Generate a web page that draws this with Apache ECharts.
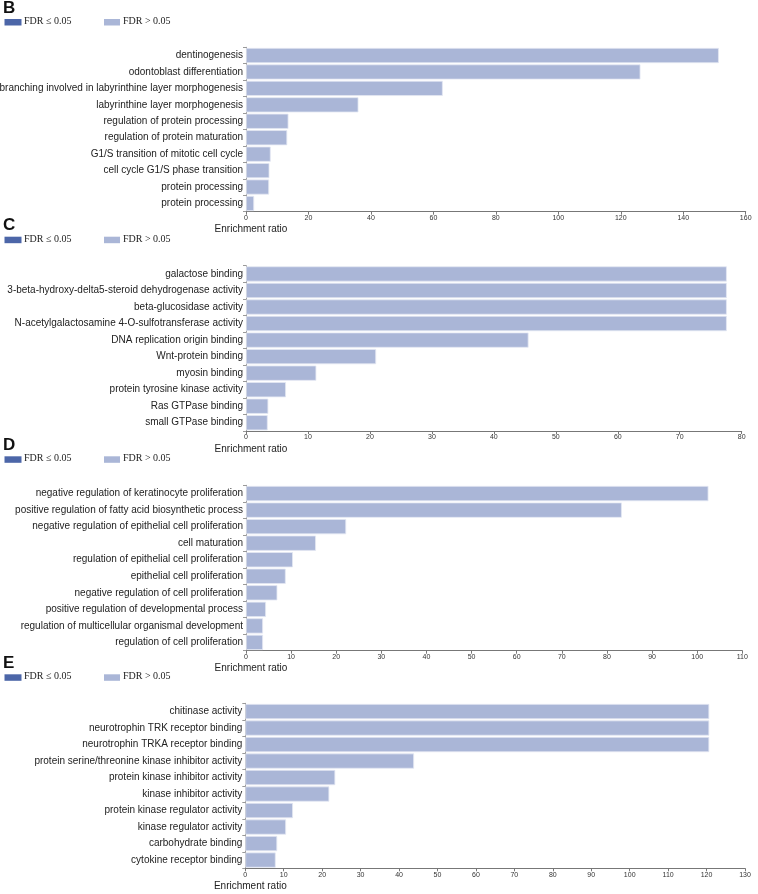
<!DOCTYPE html>
<html>
<head>
<meta charset="utf-8">
<script src="https://cdn.jsdelivr.net/npm/echarts@6/dist/echarts.min.js"></script>
<style>html,body{margin:0;padding:0;background:#fff}#c{width:758px;height:894px}</style>
</head>
<body>
<div id="c"></div>
<script>
// Panel B
var catsB = ["dentinogenesis","odontoblast differentiation","branching involved in labyrinthine layer morphogenesis","labyrinthine layer morphogenesis","regulation of protein processing","regulation of protein maturation","G1/S transition of mitotic cell cycle","cell cycle G1/S phase transition","protein processing","protein processing"];
var valsB = [151.4,126.3,63.0,36.0,13.6,13.2,7.9,7.5,7.4,2.6];
// Panel C
var catsC = ["galactose binding","3-beta-hydroxy-delta5-steroid dehydrogenase activity","beta-glucosidase activity","N-acetylgalactosamine 4-O-sulfotransferase activity","DNA replication origin binding","Wnt-protein binding","myosin binding","protein tyrosine kinase activity","Ras GTPase binding","small GTPase binding"];
var valsC = [77.6,77.6,77.6,77.6,45.6,21.0,11.35,6.45,3.6,3.5];
// Panel D
var catsD = ["negative regulation of keratinocyte proliferation","positive regulation of fatty acid biosynthetic process","negative regulation of epithelial cell proliferation","cell maturation","regulation of epithelial cell proliferation","epithelial cell proliferation","negative regulation of cell proliferation","positive regulation of developmental process","regulation of multicellular organismal development","regulation of cell proliferation"];
var valsD = [102.5,83.3,22.2,15.5,10.4,8.8,6.95,4.43,3.77,3.77];
// Panel E
var catsE = ["chitinase activity","neurotrophin TRK receptor binding","neurotrophin TRKA receptor binding","protein serine/threonine kinase inhibitor activity","protein kinase inhibitor activity","kinase inhibitor activity","protein kinase regulator activity","kinase regulator activity","carbohydrate binding","cytokine receptor binding"];
var valsE = [120.7,120.7,120.7,43.9,23.4,21.85,12.4,10.6,8.3,7.9];

var panelLetters = ["B","C","D","E"];
var axisMax = [160,80,110,130];
var axisStep = [20,10,10,10];
var legendLabels = ["FDR \u2264 0.05","FDR > 0.05"];
var axisTitle = "Enrichment ratio";

var cats = [catsB,catsC,catsD,catsE];
var vals = [valsB,valsC,valsD,valsE];

// layout (pixels)
var grids = [
  {left:246, right:12.3, top:47.3, height:164.4},
  {left:246, right:16.3, top:265.7, height:165.3},
  {left:246, right:15.7, top:485.3, height:165.4},
  {left:245.3, right:13, top:703.3, height:165}
];
var letterTop = [0, 217, 437, 655];
var legendTop = [19, 236.7, 456.3, 674.3];

var DARK = '#4c66a8', LIGHT = '#aab6d7';

var option = {
  animation:false,
  backgroundColor:'#fff',
  title: panelLetters.map(function(t,i){
    return {text:t, left:3, top:letterTop[i], padding:0,
      textStyle:{fontFamily:'Liberation Sans, Arial, sans-serif', fontSize:17, fontWeight:'bold', color:'#111'}};
  }),
  grid: grids.map(function(g){ return {left:g.left, right:g.right, top:g.top, height:g.height, containLabel:false, outerBoundsMode:'none'}; }),
  xAxis: grids.map(function(g,i){
    return {type:'value', gridIndex:i, min:0, max:axisMax[i], interval:axisStep[i],
      axisLine:{show:true, lineStyle:{color:'#777', width:1}},
      axisTick:{show:true, length:3, lineStyle:{color:'#777'}},
      splitLine:{show:false},
      axisLabel:{fontSize:7, color:'#333', margin:3, fontFamily:'Liberation Sans Narrow, Liberation Sans, Arial'},
      name:axisTitle, nameLocation:'start', nameGap:-5,
      nameTextStyle:{fontSize:10, color:'#222', align:'center', verticalAlign:'top', padding:[13,0,0,0], fontFamily:'Liberation Sans, Arial'}
    };
  }),
  yAxis: grids.map(function(g,i){
    return {type:'category', gridIndex:i, data:cats[i], inverse:true,
      axisLine:{show:true, lineStyle:{color:'#999'}},
      axisTick:{show:true, length:3, lineStyle:{color:'#999'}},
      axisLabel:{fontSize:10, color:'#222', margin:3, fontFamily:'Liberation Sans, Arial'}
    };
  }),
  series: grids.map(function(g,i){
    return {type:'bar', name:legendLabels[1], xAxisIndex:i, yAxisIndex:i, data:vals[i],
      barCategoryGap:'8%',
      itemStyle:{color:LIGHT, borderColor:'#e3e7f2', borderWidth:0.8}};
  }),
  graphic: []
};

legendTop.forEach(function(t){
  option.graphic.push({type:'rect', left:4.5, top:t, shape:{width:17, height:6.5}, style:{fill:DARK}});
  option.graphic.push({type:'text', left:24, top:t-2.5, style:{text:legendLabels[0], fontSize:10, fontFamily:'Liberation Serif, Times New Roman, serif', fill:'#222'}});
  option.graphic.push({type:'rect', left:104, top:t, shape:{width:16, height:6.5}, style:{fill:LIGHT}});
  option.graphic.push({type:'text', left:123, top:t-2.5, style:{text:legendLabels[1], fontSize:10, fontFamily:'Liberation Serif, Times New Roman, serif', fill:'#222'}});
});

var chart = echarts.init(document.getElementById('c'), null, {renderer:'canvas'});
chart.setOption(option);
</script>
</body>
</html>
